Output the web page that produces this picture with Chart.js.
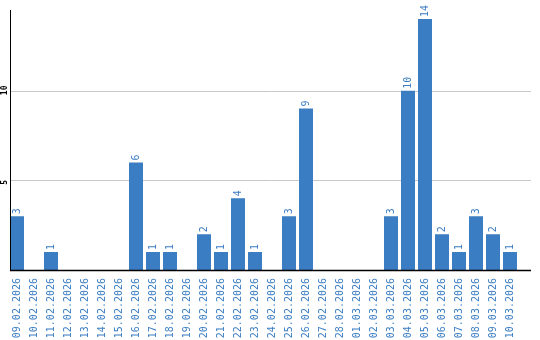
<!DOCTYPE html>
<html>
<head>
<meta charset="utf-8">
<script src="https://cdn.jsdelivr.net/npm/chart.js@4/dist/chart.umd.min.js"></script>
<style>
  html, body { margin: 0; padding: 0; background: #fff; }
  #wrap { width: 540px; height: 340px; }
</style>
</head>
<body>
<div id="wrap"><canvas id="myChart"></canvas></div>
<script>
var dates = ['09.02.2026','10.02.2026','11.02.2026','12.02.2026','13.02.2026','14.02.2026','15.02.2026',
  '16.02.2026','17.02.2026','18.02.2026','19.02.2026','20.02.2026','21.02.2026','22.02.2026','23.02.2026',
  '24.02.2026','25.02.2026','26.02.2026','27.02.2026','28.02.2026','01.03.2026','02.03.2026','03.03.2026',
  '04.03.2026','05.03.2026','06.03.2026','07.03.2026','08.03.2026','09.03.2026','10.03.2026']
var counts = [3,0,1,0,0,0,0, 6,1,1,0,2,1,4,1, 0,3,9,0,0,0,0,3, 10,14,2,1,3,2,1]
var yTicks = [5, 10]

var blue = 'rgb(58,125,194)'
var mono = '"DejaVu Sans Mono", monospace'

// grid lines, axis lines, value labels and y tick labels drawn by hand
var extras = {
  id: 'extras',
  beforeDatasetsDraw: function(chart) {
    var ctx = chart.ctx, a = chart.chartArea, y = chart.scales.y
    var x0 = a.left + 1.5, x1 = a.right + 12.5
    ctx.save()
    ctx.strokeStyle = '#c8c8c8'
    ctx.lineWidth = 1
    yTicks.forEach(function(v) {
      var py = Math.round(y.getPixelForValue(v)) + 0.5
      ctx.beginPath(); ctx.moveTo(x0, py); ctx.lineTo(x1, py); ctx.stroke()
    })
    ctx.restore()
  },
  afterDatasetsDraw: function(chart) {
    var ctx = chart.ctx, a = chart.chartArea, y = chart.scales.y
    var x0 = a.left + 1.5, x1 = a.right + 12.5
    ctx.save()
    ctx.strokeStyle = '#000'
    ctx.lineWidth = 1
    ctx.beginPath(); ctx.moveTo(x0 + 0.5, a.top); ctx.lineTo(x0 + 0.5, a.bottom); ctx.stroke()
    ctx.lineWidth = 1.5
    ctx.beginPath(); ctx.moveTo(x0, a.bottom + 0.5); ctx.lineTo(x1, a.bottom + 0.5); ctx.stroke()

    // value labels
    var meta = chart.getDatasetMeta(0)
    ctx.fillStyle = blue
    ctx.font = '10px ' + mono
    ctx.textAlign = 'left'
    ctx.textBaseline = 'middle'
    meta.data.forEach(function(bar, i) {
      if (!counts[i]) return
      ctx.save()
      ctx.translate(bar.x, bar.y - 2)
      ctx.rotate(-Math.PI / 2)
      ctx.fillText(String(counts[i]), 0, 0)
      ctx.restore()
    })

    // y tick labels
    ctx.fillStyle = '#000'
    ctx.font = 'bold 8px ' + mono
    yTicks.forEach(function(v) {
      ctx.save()
      ctx.translate(5, y.getPixelForValue(v) + 4.5)
      ctx.rotate(-Math.PI / 2)
      ctx.fillText(String(v), 0, 0)
      ctx.restore()
    })
    ctx.restore()
  }
}

var data = {
  labels: dates,
  datasets: [{
    data: counts,
    backgroundColor: blue,
    borderWidth: 0,
    categoryPercentage: 1,
    barPercentage: 14 / 17
  }]
}

var config = {
  type: 'bar',
  data: data,
  options: {
    responsive: true,
    maintainAspectRatio: false,
    animation: false,
    layout: { padding: { left: 8.5, right: 21.5, top: 10, bottom: 0 } },
    plugins: { legend: { display: false }, tooltip: { enabled: false } },
    scales: {
      x: {
        grid: { display: false },
        border: { display: false },
        ticks: {
          autoSkip: false,
          minRotation: 90,
          maxRotation: 90,
          padding: 0,
          color: blue,
          font: { family: mono, size: 10 }
        },
        afterFit: function(s) { s.height = 70 }
      },
      y: {
        display: false,
        min: 0,
        max: 14.5
      }
    }
  },
  plugins: [extras]
}

var myChart = new Chart(document.getElementById('myChart'), config)
</script>
</body>
</html>
